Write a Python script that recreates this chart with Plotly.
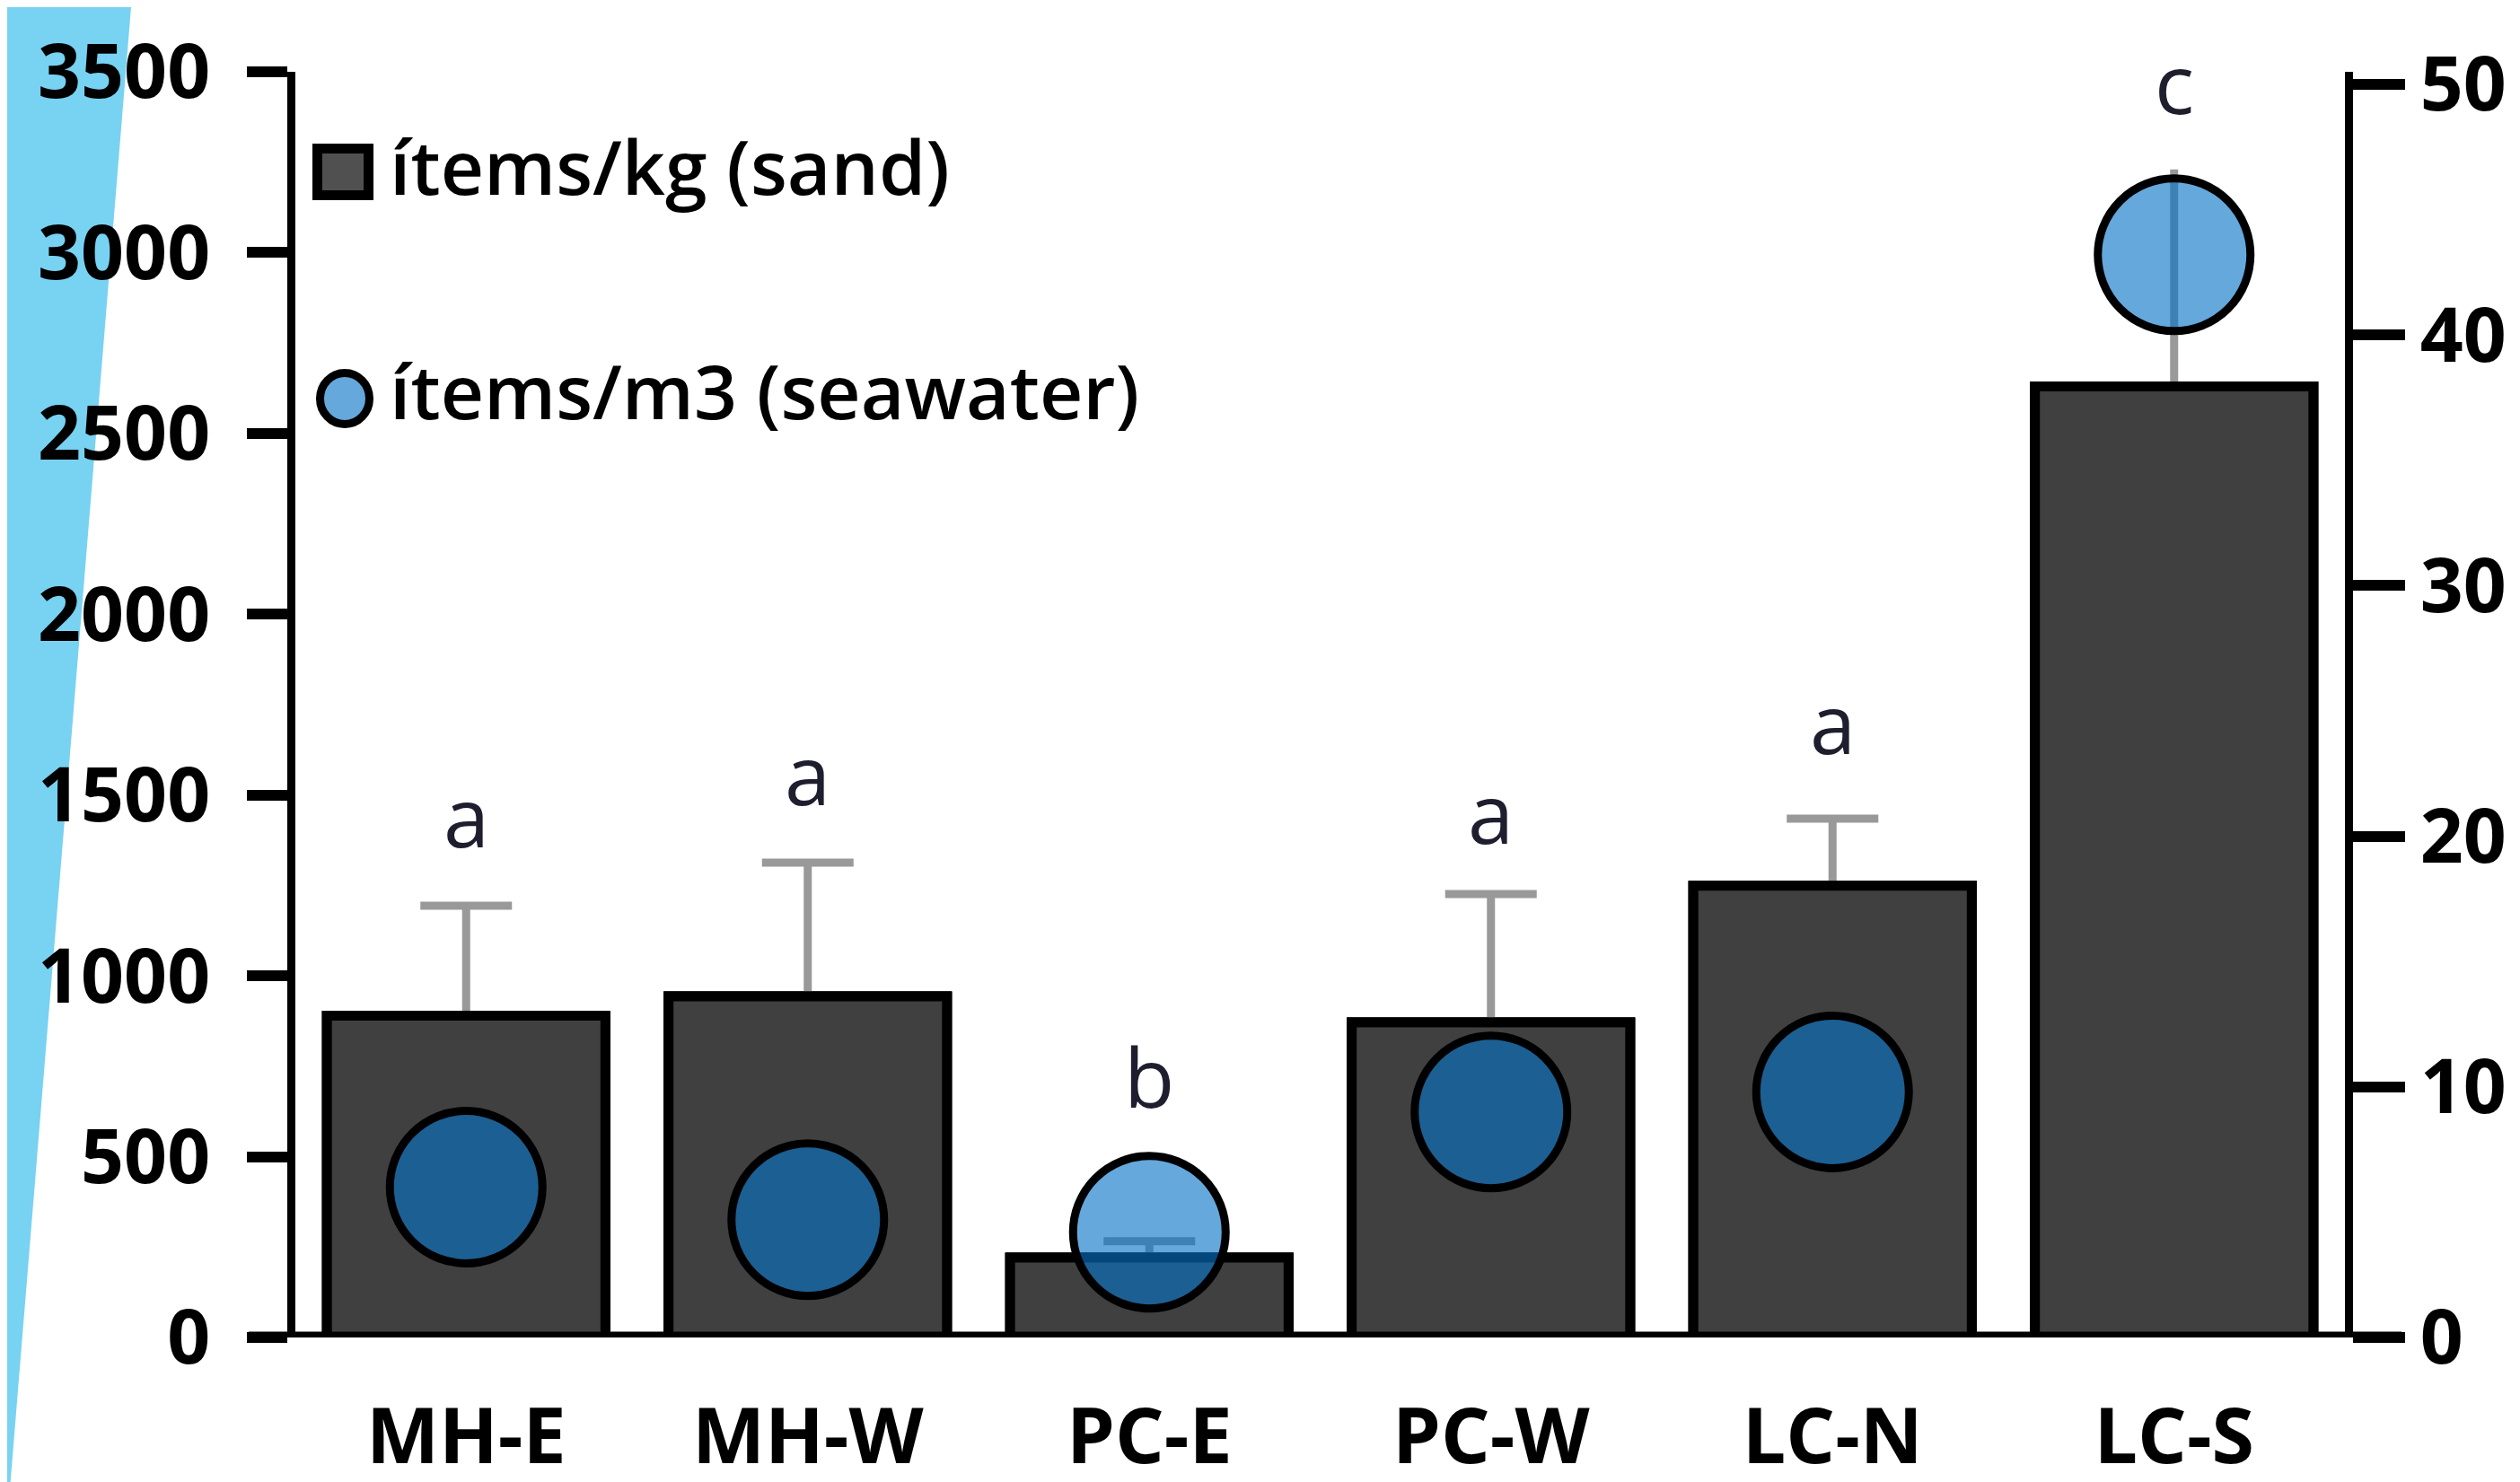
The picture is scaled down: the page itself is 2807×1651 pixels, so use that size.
import plotly.graph_objects as go

# ---- data ----
sites = ["MH-E", "MH-W", "PC-E", "PC-W", "LC-N", "LC-S"]
sand_items_per_kg = [890, 943, 221, 871, 1249, 2630]
sand_error_up = [304, 370, 45, 355, 186, 600]
error_cap_hidden = ["LC-S"]          # cap hidden under the seawater marker
seawater_items_per_m3 = [6.0, 4.7, 4.2, 9.0, 9.8, 43.2]
significance = ["a", "a", "b", "a", "a", "c"]
significance_y = [1328, 1445, 609, 1338, 1586, 3355]   # baseline height, items/kg units
left_ticks = [0, 500, 1000, 1500, 2000, 2500, 3000, 3500]
right_ticks = [0, 10, 20, 30, 40, 50]
legend_labels = ["ítems/kg (sand)", "ítems/m3 (seawater)"]

W, H = 2807, 1651
L, R, T, B = 321, 203, 72, 169
pw = W - L - R
ph = H - T - B


def px_x(px):
    return (px - L) / pw


def px_y(py):
    return (H - B - py) / ph


BAR_FILL = "#404040"
BLUE = "rgba(6,114,198,0.62)"
BLUE_ON_WHITE = "#65A8DC"
ERR_GRAY = "#999999"
TICK_FONT = dict(family="Open Sans", size=84, color="black", weight="bold")

capped_err = [0 if s in error_cap_hidden else e for s, e in zip(sites, sand_error_up)]
uncapped_err = [e if s in error_cap_hidden else 0 for s, e in zip(sites, sand_error_up)]
zeros = [0] * len(sites)

fig = go.Figure()
# error bars (drawn underneath the bars so the lower caps are hidden)
fig.add_trace(go.Bar(
    x=sites, y=sand_items_per_kg, showlegend=False, hoverinfo="skip",
    marker=dict(color=BAR_FILL, line=dict(color="black", width=11)),
    error_y=dict(type="data", symmetric=False, array=capped_err,
                 arrayminus=zeros, color=ERR_GRAY, thickness=9, width=51),
))
fig.add_trace(go.Bar(
    x=sites, y=sand_items_per_kg, showlegend=False, hoverinfo="skip",
    marker=dict(color=BAR_FILL, line=dict(color="black", width=11)),
    error_y=dict(type="data", symmetric=False, array=uncapped_err,
                 arrayminus=zeros, color=ERR_GRAY, thickness=9, width=0),
))
# sand bars
fig.add_trace(go.Bar(
    x=sites, y=sand_items_per_kg, name=legend_labels[0],
    marker=dict(color=BAR_FILL, line=dict(color="black", width=11)),
))
# seawater markers
fig.add_trace(go.Scatter(
    x=sites, y=seawater_items_per_m3, name=legend_labels[1], mode="markers",
    marker=dict(size=170, color=BLUE, line=dict(color="black", width=9)),
    yaxis="y2", cliponaxis=False,
))

annotations = []
for s, t, yv in zip(sites, significance, significance_y):
    annotations.append(dict(
        x=s, y=yv, xref="x", yref="y", text=t, showarrow=False,
        yanchor="bottom", xanchor="center", yshift=-18,
        font=dict(family="Open Sans", size=92, color="#1e1e2e"),
    ))

legend_y = [px_y(176), px_y(427)]
for lab, ly in zip(legend_labels, legend_y):
    annotations.append(dict(
        x=px_x(424), y=ly, xref="paper", yref="paper", text=lab,
        showarrow=False, xanchor="left", yanchor="middle",
        font=dict(family="Open Sans", size=84, color="black", weight=600),
    ))

shapes = [
    # light-blue diagonal band on the left edge
    dict(type="path", xref="paper", yref="paper", layer="below",
         path=f"M {px_x(0)},{px_y(0)} L {px_x(138)},{px_y(0)} "
              f"L {px_x(3)},{px_y(H)} L {px_x(0)},{px_y(H)} Z",
         fillcolor="#78D2F2", line=dict(width=0)),
    # bottom axis line spanning both tick sides
    dict(type="line", xref="paper", yref="y", x0=px_x(269), x1=px_x(2667),
         y0=0, y1=0, line=dict(color="black", width=13), layer="above"),
    # legend symbols
    dict(type="rect", xref="paper", yref="paper",
         x0=px_x(345.5), x1=px_x(402.5), y0=px_y(209.5), y1=px_y(157.5),
         fillcolor="#505050", line=dict(color="black", width=11)),
    dict(type="circle", xref="paper", yref="paper",
         x0=px_x(348.5), x1=px_x(403.5), y0=px_y(464.5), y1=px_y(407.5),
         fillcolor=BLUE_ON_WHITE, line=dict(color="black", width=9)),
]

fig.update_layout(
    width=W, height=H,
    margin=dict(l=L, r=R, t=T, b=B, pad=0),
    paper_bgcolor="white", plot_bgcolor="white",
    showlegend=False, barmode="overlay", bargap=0.185,
    xaxis=dict(type="category", range=[-0.5, 5.5], showline=False,
               ticks="", showgrid=False, zeroline=False, automargin=False,
               tickfont=dict(family="Open Sans", size=86, color="black",
                             weight="bold"),
               ticklabelstandoff=53),
    yaxis=dict(range=[0, 3500], tickvals=left_ticks, showline=True,
               linecolor="black", linewidth=9, ticks="outside", ticklen=45,
               tickwidth=12, tickcolor="black", showgrid=False,
               zeroline=False, automargin=False, tickfont=TICK_FONT,
               ticklabelstandoff=24),
    yaxis2=dict(range=[0, 50.5], tickvals=right_ticks, overlaying="y",
                side="right", showline=True, linecolor="black", linewidth=9,
                ticks="outside", ticklen=58, tickwidth=12, tickcolor="black",
                showgrid=False, zeroline=False, automargin=False,
                tickfont=TICK_FONT, ticklabelstandoff=0),
    annotations=annotations, shapes=shapes,
)

fig.write_html("out.html")
